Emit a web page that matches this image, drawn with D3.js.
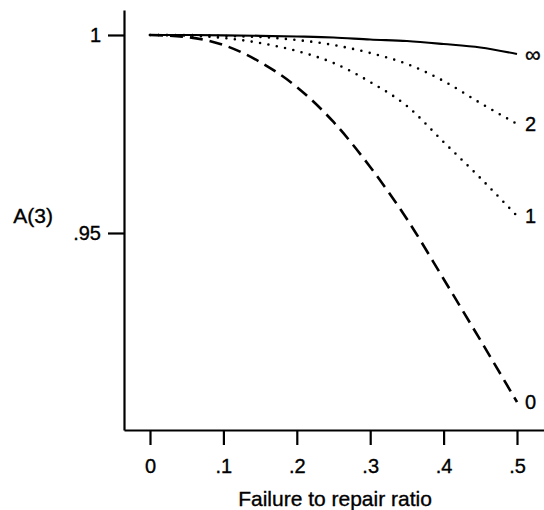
<!DOCTYPE html>
<html><head><meta charset="utf-8">
<script src="https://cdn.jsdelivr.net/npm/d3@7"></script>
<style>
html,body{margin:0;padding:0;background:#fff;}
svg text{font-family:"Liberation Sans",Arial,Helvetica,sans-serif;fill:#000;stroke:#000;stroke-width:0.35px;}
</style></head>
<body>
<svg id="chart" width="544" height="510"></svg>
<script>
// Data
const ratios = [0, 0.05, 0.1, 0.15, 0.2, 0.25, 0.3, 0.35, 0.4, 0.45, 0.5];
const seriesNames = ["∞", "2", "1", "0"];
const valuesInf = [1, 1, 0.99992, 0.9998, 0.99962, 0.99937, 0.99886, 0.99848, 0.99773, 0.99684, 0.99520];
const values2   = [1, 1, 0.99975, 0.99949, 0.99874, 0.99747, 0.99545, 0.99268, 0.98838, 0.98283, 0.97753];
const values1   = [1, 0.99987, 0.99924, 0.99798, 0.99596, 0.99293, 0.98813, 0.98207, 0.97298, 0.96389, 0.95429];
const values0   = [1, 0.9995, 0.99747, 0.99318, 0.98687, 0.97803, 0.96667, 0.95354, 0.93838, 0.92298, 0.90732];
const xTicks = [0, 0.1, 0.2, 0.3, 0.4, 0.5];
const xTickLabels = ["0", ".1", ".2", ".3", ".4", ".5"];
const yTicks = [0.95, 1];
const yTickLabels = [".95", "1"];
const xTitle = "Failure to repair ratio";
const yTitle = "A(3)";

const svg = d3.select("#chart");
const x = d3.scaleLinear().domain([-0.03542, 0.53678]).range([124, 544]);
const y = d3.scaleLinear().domain([0.90025, 1.00631]).range([430, 10]);

const xAxis = svg.append("g").attr("transform", "translate(0,430)")
  .call(d3.axisBottom(x).tickValues(xTicks).tickSize(15).tickSizeOuter(0).tickPadding(14)
    .tickFormat((d, i) => xTickLabels[i]));
const yAxis = svg.append("g").attr("transform", "translate(124,0)")
  .call(d3.axisLeft(y).tickValues(yTicks).tickSize(16).tickSizeOuter(0).tickPadding(7)
    .tickFormat((d, i) => yTickLabels[i]));
[xAxis, yAxis].forEach(g => {
  g.select(".domain").attr("stroke", "#000").attr("stroke-width", 2.2);
  g.selectAll(".tick line").attr("stroke", "#000").attr("stroke-width", 2.2);
  g.selectAll(".tick text").attr("font-size", 20).attr("fill", "#000")
    .style("font-family", '"Liberation Sans",Arial,sans-serif');
});

svg.append("text").attr("x", 335).attr("y", 506).attr("text-anchor", "middle")
  .attr("font-size", 21).text(xTitle);
svg.append("text").attr("x", 53).attr("y", 223).attr("text-anchor", "end")
  .attr("font-size", 21).text(yTitle);

const line = d3.line().x((d, i) => x(ratios[i])).y(d => y(d)).curve(d3.curveMonotoneX);
const series = [
  {name: seriesNames[0], vals: valuesInf, dash: null, w: 2.2, cap: "butt", fs: 22},
  {name: seriesNames[1], vals: values2, dash: "0,8.5", w: 2.6, cap: "round", fs: 20},
  {name: seriesNames[2], vals: values1, dash: "0,8.5", w: 2.6, cap: "round", fs: 20},
  {name: seriesNames[3], vals: values0, dash: "13,7", w: 2.6, cap: "butt", fs: 20}
];
series.forEach(s => {
  svg.append("path").datum(s.vals).attr("d", line).attr("fill", "none")
    .attr("stroke", "#000").attr("stroke-width", s.w)
    .attr("stroke-linecap", s.cap)
    .attr("stroke-dasharray", s.dash);
  svg.append("text").attr("x", x(ratios[ratios.length - 1]) + 8)
    .attr("y", y(s.vals[s.vals.length - 1])).attr("dy", "0.35em")
    .attr("font-size", s.fs).text(s.name);
});
</script>
</body></html>
